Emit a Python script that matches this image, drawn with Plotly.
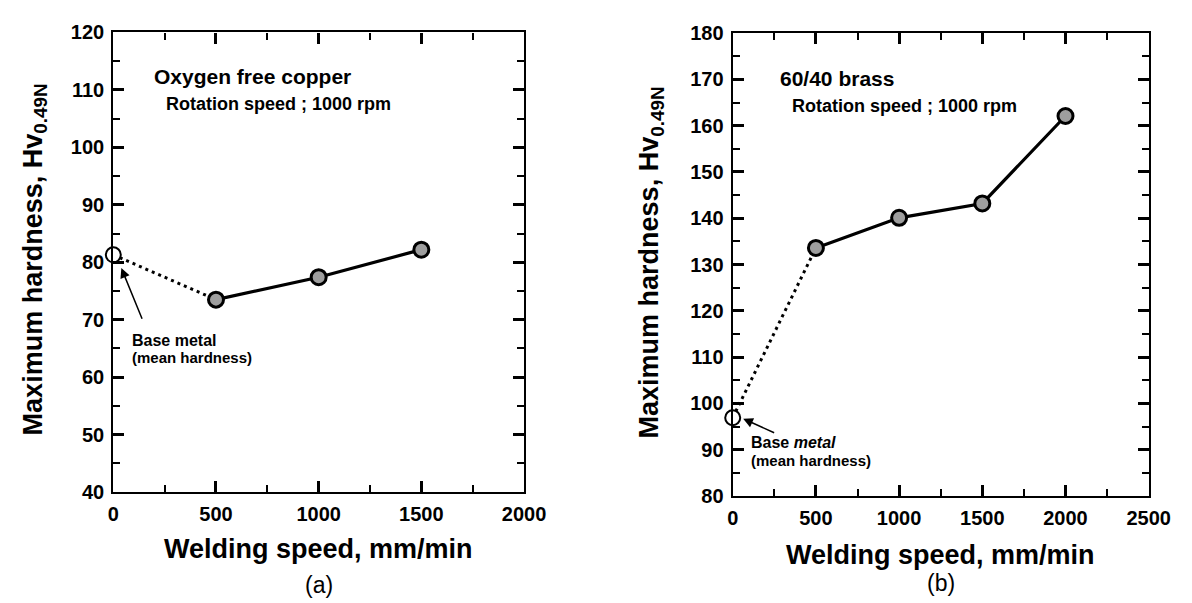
import plotly.graph_objects as go

W, H = 1192, 603

# ---- data ----
speed_a = [500, 1000, 1500]
hard_a = [73.5, 77.4, 82.2]
base_a = 81.3

speed_b = [500, 1000, 1500, 2000]
hard_b = [133.6, 140.1, 143.2, 162.1]
base_b = 96.9

xticks_a = [0, 500, 1000, 1500, 2000]
yticks_a = [40, 50, 60, 70, 80, 90, 100, 110, 120]
xticks_b = [0, 500, 1000, 1500, 2000, 2500]
yticks_b = [80, 90, 100, 110, 120, 130, 140, 150, 160, 170, 180]

FONT = "Liberation Sans, Arial, sans-serif"


def px(x):
    return x / W


def py(y):
    return 1 - y / H


fig = go.Figure()

fill_marker = dict(size=15, color="#9e9e9e", line=dict(color="black", width=3))
open_marker = dict(size=15, color="white", line=dict(color="black", width=2))

for xa, ya, speeds, hards, base in [("x", "y", speed_a, hard_a, base_a),
                                    ("x2", "y2", speed_b, hard_b, base_b)]:
    fig.add_trace(go.Scatter(x=[0, speeds[0]], y=[base, hards[0]], mode="lines",
                             line=dict(color="black", width=3, dash="3px,4px"),
                             xaxis=xa, yaxis=ya, cliponaxis=False, showlegend=False))
    fig.add_trace(go.Scatter(x=speeds, y=hards, mode="lines+markers",
                             line=dict(color="black", width=3.2), marker=fill_marker,
                             xaxis=xa, yaxis=ya, cliponaxis=False, showlegend=False))
    fig.add_trace(go.Scatter(x=[0], y=[base], mode="markers", marker=open_marker,
                             xaxis=xa, yaxis=ya, cliponaxis=False, showlegend=False))


def make_axis(domain, rng, vals, step, anchor, standoff):
    return dict(domain=domain, range=rng, anchor=anchor,
                tickmode="array", tickvals=vals, ticktext=["<b>%d</b>" % v for v in vals],
                ticks="inside", ticklen=11, tickwidth=2.5, tickcolor="black",
                minor=dict(tickmode="linear", tick0=rng[0], dtick=step / 2,
                           ticks="inside", ticklen=7, tickwidth=2, tickcolor="black"),
                showline=True, linewidth=2.2, linecolor="black", mirror="allticks",
                showgrid=False, zeroline=False, ticklabelstandoff=standoff,
                tickfont=dict(family=FONT, size=20, color="black"))


xa = make_axis([px(101.7), px(522.3)], [0, 2000], xticks_a, 500, "y", 3)
ya = make_axis([py(491), py(14)], [40, 120], yticks_a, 10, "x", 3)
xb = make_axis([px(736), px(1162)], [0, 2500], xticks_b, 500, "y2", 3)
yb = make_axis([py(495), py(14.7)], [80, 180], yticks_b, 10, "x2", 3)

ann = []


def txt(x, y, text, size, xanchor="left", angle=0):
    ann.append(dict(x=px(x), y=py(y), xref="paper", yref="paper", text=text,
                    showarrow=False, xanchor=xanchor, yanchor="middle", textangle=angle,
                    font=dict(family=FONT, size=size, color="black")))


# axis titles
txt(312, 550, "<b>Welding speed, mm/min</b>", 27, "center")
txt(949, 556, "<b>Welding speed, mm/min</b>", 27, "center")
txt(21, 250, "<b>Maximum hardness, Hv<sub>0.49N</sub></b>", 27, "center", -90)
txt(652, 253, "<b>Maximum hardness, Hv<sub>0.49N</sub></b>", 27, "center", -90)
txt(312, 587, "(a)", 23, "center")
txt(949, 585, "(b)", 23, "center")

# panel labels
txt(141, 60, "<b>Oxygen free copper</b>", 21)
txt(154, 88, "<b>Rotation speed ; 1000 rpm</b>", 18)
txt(782, 62, "<b>60/40 brass</b>", 21)
txt(795, 90, "<b>Rotation speed ; 1000 rpm</b>", 18)

# base metal notes
txt(119, 334, "<b>Base metal</b>", 16)
txt(119, 351, "<b>(mean hardness)</b>", 15)
txt(753, 440, "<b>Base <i>metal</i></b>", 16)
txt(753, 458, "<b>(mean hardness)</b>", 15)

# arrows (data coordinates)
ann.append(dict(x=39, y=79.0, ax=143, ay=69.9, xref="x", yref="y", axref="x", ayref="y",
                showarrow=True, arrowhead=2, arrowsize=1.3, arrowwidth=1.5, arrowcolor="black",
                text=""))
ann.append(dict(x=63, y=96.7, ax=258, ay=93.5, xref="x2", yref="y2", axref="x2", ayref="y2",
                showarrow=True, arrowhead=2, arrowsize=1.3, arrowwidth=1.5, arrowcolor="black",
                text=""))

fig.update_layout(width=W, height=H, margin=dict(l=0, r=0, t=0, b=0),
                  paper_bgcolor="white", plot_bgcolor="white",
                  xaxis=xa, yaxis=ya, xaxis2=xb, yaxis2=yb,
                  annotations=ann, showlegend=False)

fig.write_html("out.html", config={"displayModeBar": False})
